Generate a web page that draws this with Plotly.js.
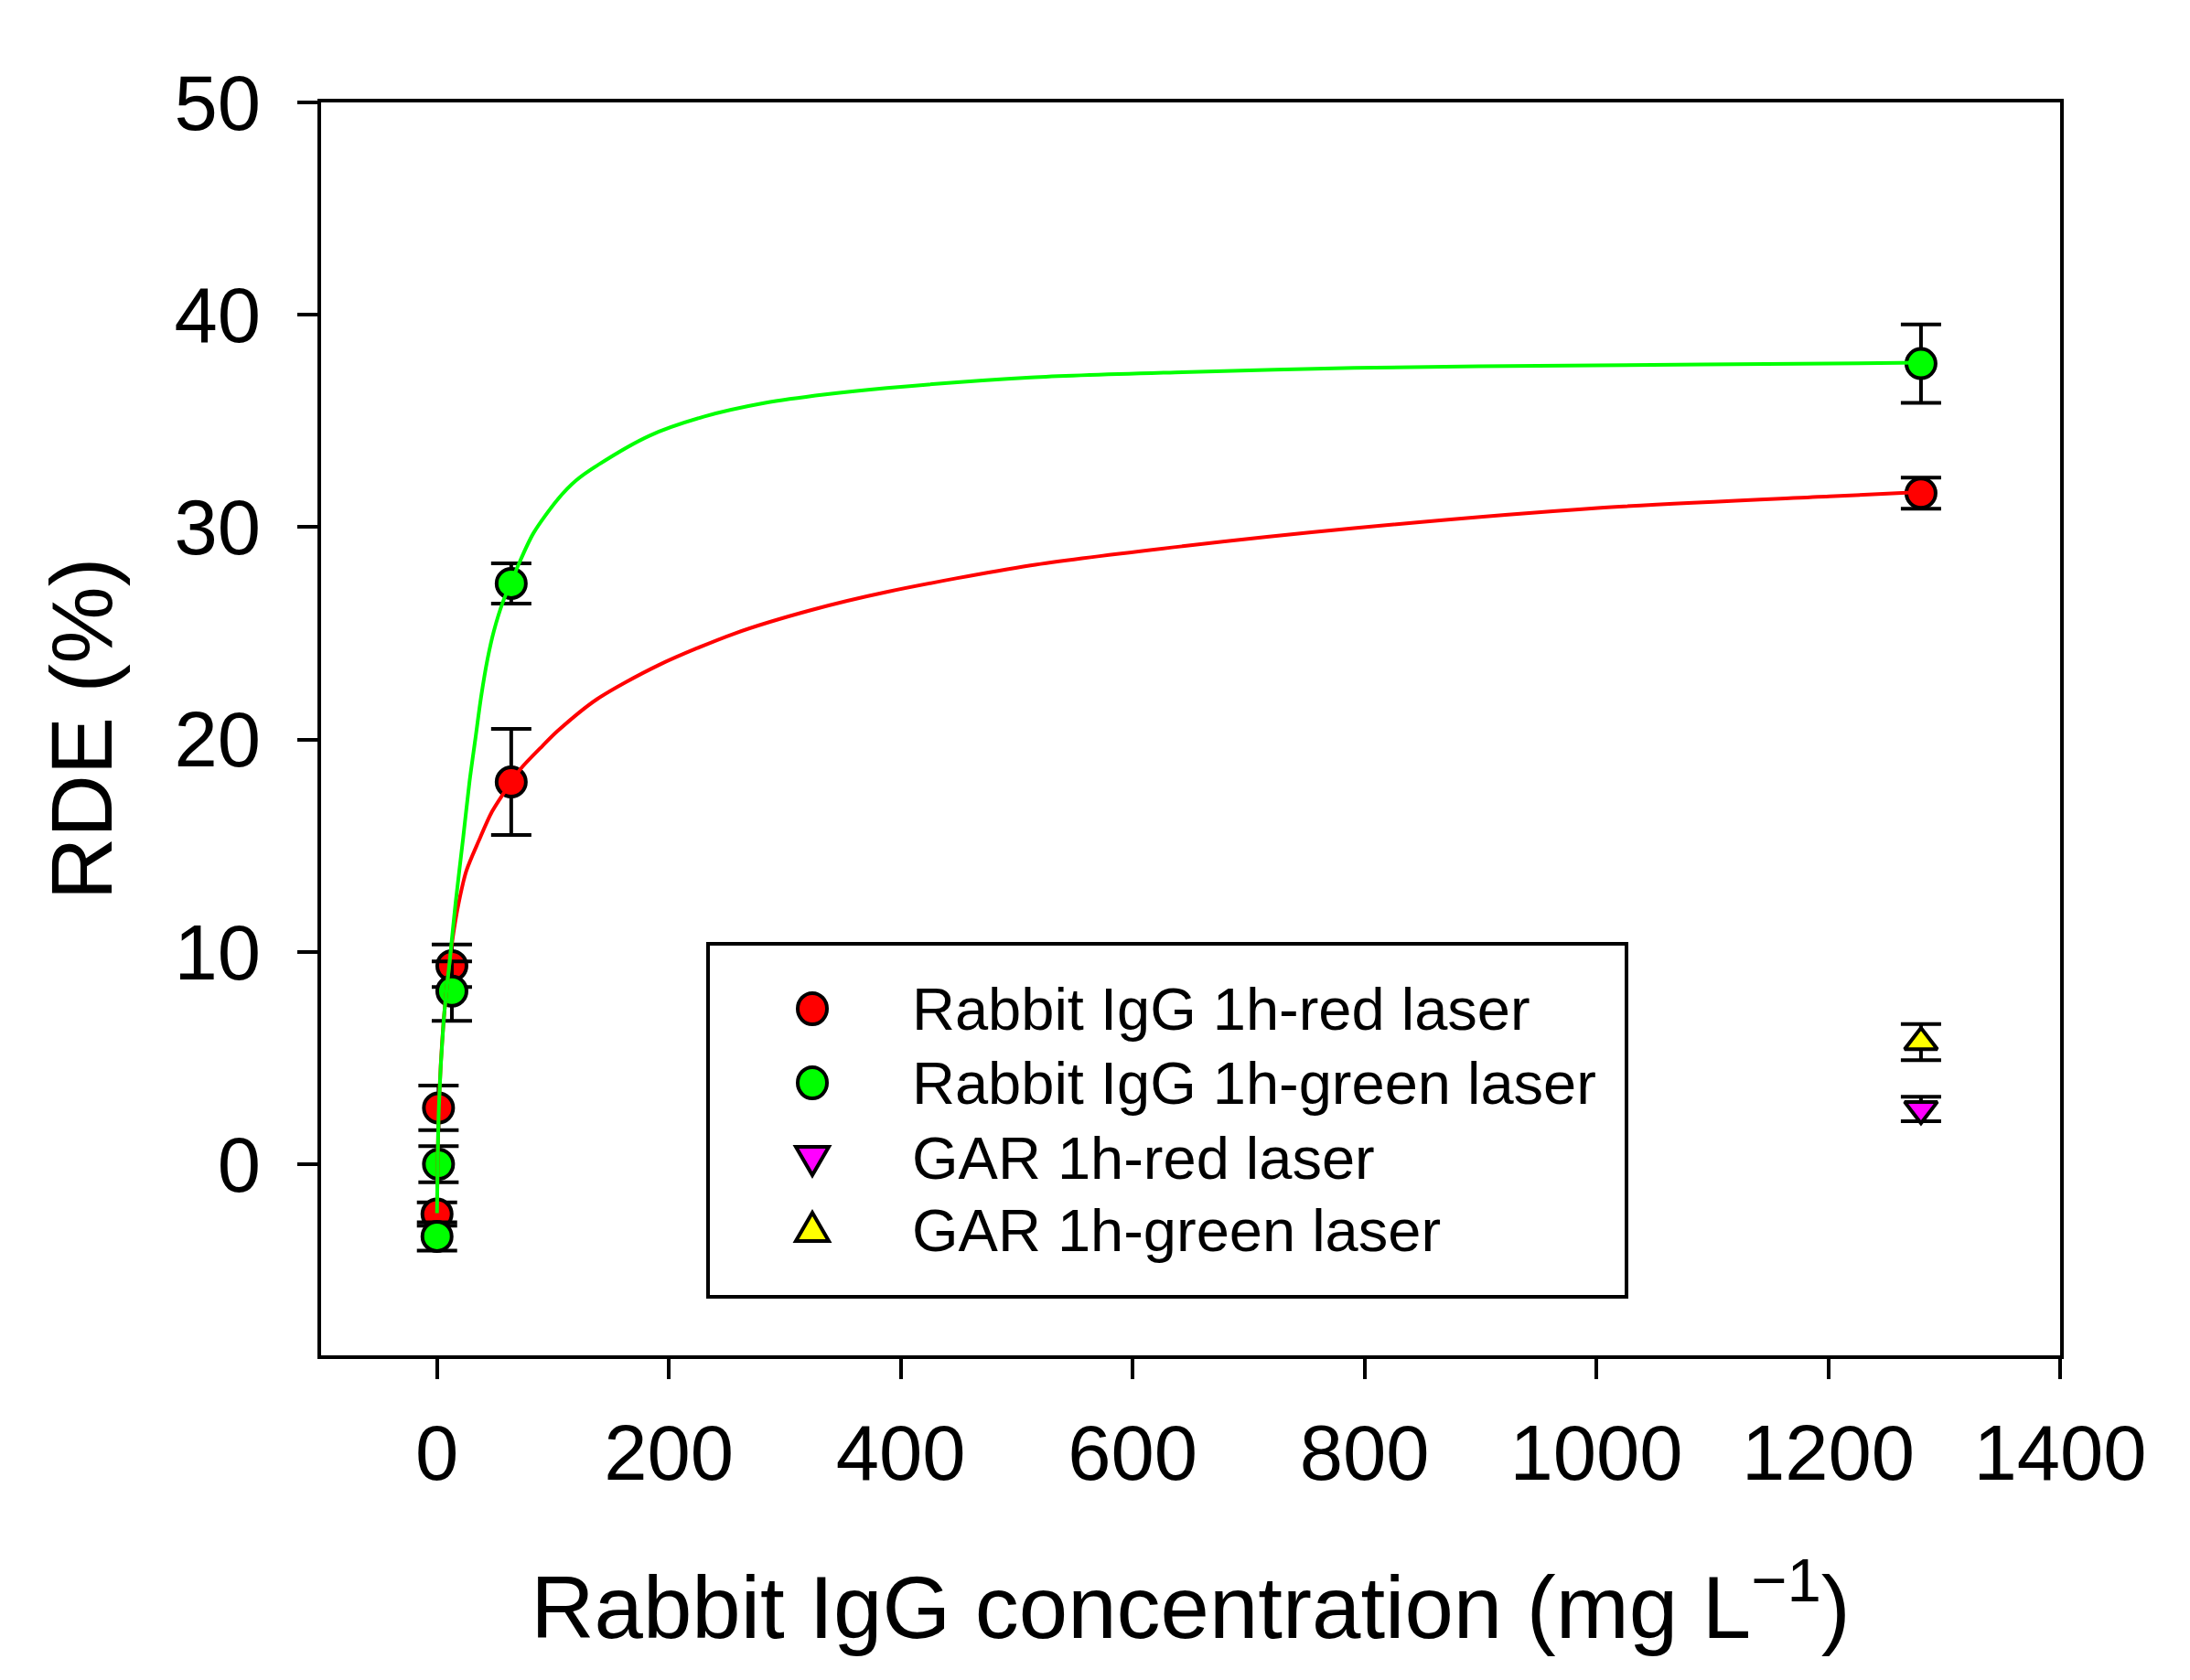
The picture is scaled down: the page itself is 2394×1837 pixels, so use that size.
<!DOCTYPE html>
<html>
<head>
<meta charset="utf-8">
<script src="https://cdn.plot.ly/plotly-3.0.1.min.js"></script>
<style>html,body{margin:0;padding:0;background:#fff}</style>
</head>
<body>
<div id="myDiv0" style="width:2394px;height:1837px"></div>
<script>
// values
let seriesNames = ["Rabbit IgG 1h-red laser", "Rabbit IgG 1h-green laser", "GAR 1h-red laser", "GAR 1h-green laser"]
let conc = [0, 1.28, 12.8, 64, 1280]
let redRDE = [-2.35, 2.65, 9.35, 18.0, 31.6]
let redErr = [0.55, 1.05, 1.0, 2.5, 0.73]
let greenRDE = [-3.4, 0.0, 8.15, 27.35, 37.7]
let greenErr = [0.67, 0.85, 1.4, 0.95, 1.85]
let garConc = [1280]
let garRedRDE = [2.6]
let garRedErr = [0.58]
let garGreenRDE = [5.75]
let garGreenErr = [0.85]

// fitted curves
let redFitX = [0, 1.6, 5.5, 10.8, 14.2, 18.7, 25.2, 35.8, 47.4, 59, 64, 72.6, 91, 104, 138, 191, 257, 323, 388, 512, 643, 791, 1001, 1201, 1280]
let redFitY = [-2.3, 2.7, 6.6, 9.5, 10.9, 12.3, 13.8, 15.2, 16.6, 17.6, 18.0, 18.65, 19.7, 20.4, 21.9, 23.5, 25.0, 26.1, 26.95, 28.2, 29.1, 29.95, 30.9, 31.45, 31.65]
let greenFitX = [0, 1.6, 5.5, 8, 10.8, 16, 22.6, 28, 33, 38, 43.6, 49, 57, 64, 70, 83, 104, 120, 138, 183, 230, 283, 335, 388, 512, 643, 791, 1000, 1201, 1280]
let greenFitY = [-2.3, 2.7, 6.6, 8.1, 9.5, 12.3, 15.4, 18.0, 20.0, 22.0, 23.8, 25.1, 26.5, 27.4, 28.2, 29.7, 31.3, 32.2, 32.9, 34.3, 35.2, 35.85, 36.25, 36.55, 37.05, 37.3, 37.5, 37.62, 37.7, 37.75]

let xTicks = [0, 200, 400, 600, 800, 1000, 1200, 1400]
let yTicks = [0, 10, 20, 30, 40, 50]
let seriesColors = ["#ff0000", "#00ff00", "#ff00ff", "#ffff00"]
let seriesSymbols = ["circle", "circle", "triangle-down", "triangle-up"]

const FONT = "Liberation Sans, Arial, sans-serif"
// plot area in pixels
const L = 351, R = 2252, T = 112, B = 1482
function paperX(px) { return (px - L) / (R - L) }
function paperY(py) { return (B - py) / (B - T) }

function errBar(arr) {
    return { type: 'data', array: arr, visible: true, color: 'black', thickness: 4, width: 22 }
}
function markerTrace(x, y, err, i, size) {
    return {
        x: x, y: y, type: 'scatter', mode: 'markers', name: seriesNames[i], showlegend: false,
        error_y: errBar(err),
        marker: { symbol: seriesSymbols[i], size: size, color: seriesColors[i], line: { color: 'black', width: 4 } }
    }
}
function fitTrace(x, y, color) {
    return {
        x: x, y: y, type: 'scatter', mode: 'lines', showlegend: false, hoverinfo: 'skip',
        line: { color: color, width: 4, shape: 'spline', smoothing: 0.8 }
    }
}

let traces = [
    markerTrace(conc, redRDE, redErr, 0, 32),
    markerTrace(conc, greenRDE, greenErr, 1, 32),
    markerTrace(garConc, garRedRDE, garRedErr, 2, 31),
    markerTrace(garConc, garGreenRDE, garGreenErr, 3, 31),
    fitTrace(redFitX, redFitY, seriesColors[0]),
    fitTrace(greenFitX, greenFitY, seriesColors[1])
]

// hand-made legend box so the key symbols keep their full size
let legendRows = [1103, 1184, 1266, 1345]
let keyX = paperX(888), textX = paperX(995)
let shapes = [{
    type: 'rect', xref: 'paper', yref: 'paper',
    x0: paperX(774), x1: paperX(1778), y0: paperY(1418), y1: paperY(1032),
    line: { color: 'black', width: 4 }, fillcolor: 'rgba(0,0,0,0)'
}]
let annotations = []
let keyPaths = {
    'triangle-down': 'M -18,12 L 18,12 L 0,-19 Z',
    'triangle-up': 'M -18,-12 L 18,-12 L 0,19 Z'
}
seriesNames.forEach((name, i) => {
    let ky = paperY(legendRows[i])
    let base = {
        xref: 'paper', yref: 'paper', xsizemode: 'pixel', ysizemode: 'pixel',
        xanchor: keyX, yanchor: ky, fillcolor: seriesColors[i], line: { color: 'black', width: 4 }
    }
    if (seriesSymbols[i] == 'circle')
        shapes.push(Object.assign({ type: 'circle', x0: -16, x1: 16, y0: -17, y1: 17 }, base))
    else
        shapes.push(Object.assign({ type: 'path', path: keyPaths[seriesSymbols[i]] }, base))
    annotations.push({
        xref: 'paper', yref: 'paper', x: textX, y: ky, xanchor: 'left', yanchor: 'middle',
        text: name, showarrow: false, font: { family: FONT, size: 65, color: 'black' }
    })
})

let layout = {
    width: 2394, height: 1837,
    margin: { l: L, r: 2394 - R, t: T, b: 1837 - B },
    paper_bgcolor: 'white', plot_bgcolor: 'white',
    font: { family: FONT, color: 'black' },
    showlegend: false,
    xaxis: {
        range: [-100, 1400], tickvals: xTicks, ticks: 'outside', ticklen: 22, tickwidth: 4,
        tickcolor: 'black', showline: true, linewidth: 4, linecolor: 'black', mirror: true,
        showgrid: false, zeroline: false, tickfont: { family: FONT, size: 85 }, ticklabelstandoff: 8,
        title: { text: 'Rabbit IgG concentration (mg L<sup>\u22121</sup>)', font: { family: FONT, size: 96 }, standoff: 90 }
    },
    yaxis: {
        range: [-9, 50], tickvals: yTicks, ticks: 'outside', ticklen: 22, tickwidth: 4,
        tickcolor: 'black', showline: true, linewidth: 4, linecolor: 'black', mirror: true,
        showgrid: false, zeroline: false, tickfont: { family: FONT, size: 85 }, ticklabelstandoff: 23,
        title: { text: 'RDE (%)', font: { family: FONT, size: 95 }, standoff: 37 }
    },
    shapes: shapes,
    annotations: annotations
}

Plotly.newPlot('myDiv0', traces, layout, { staticPlot: true })
</script>
</body>
</html>
